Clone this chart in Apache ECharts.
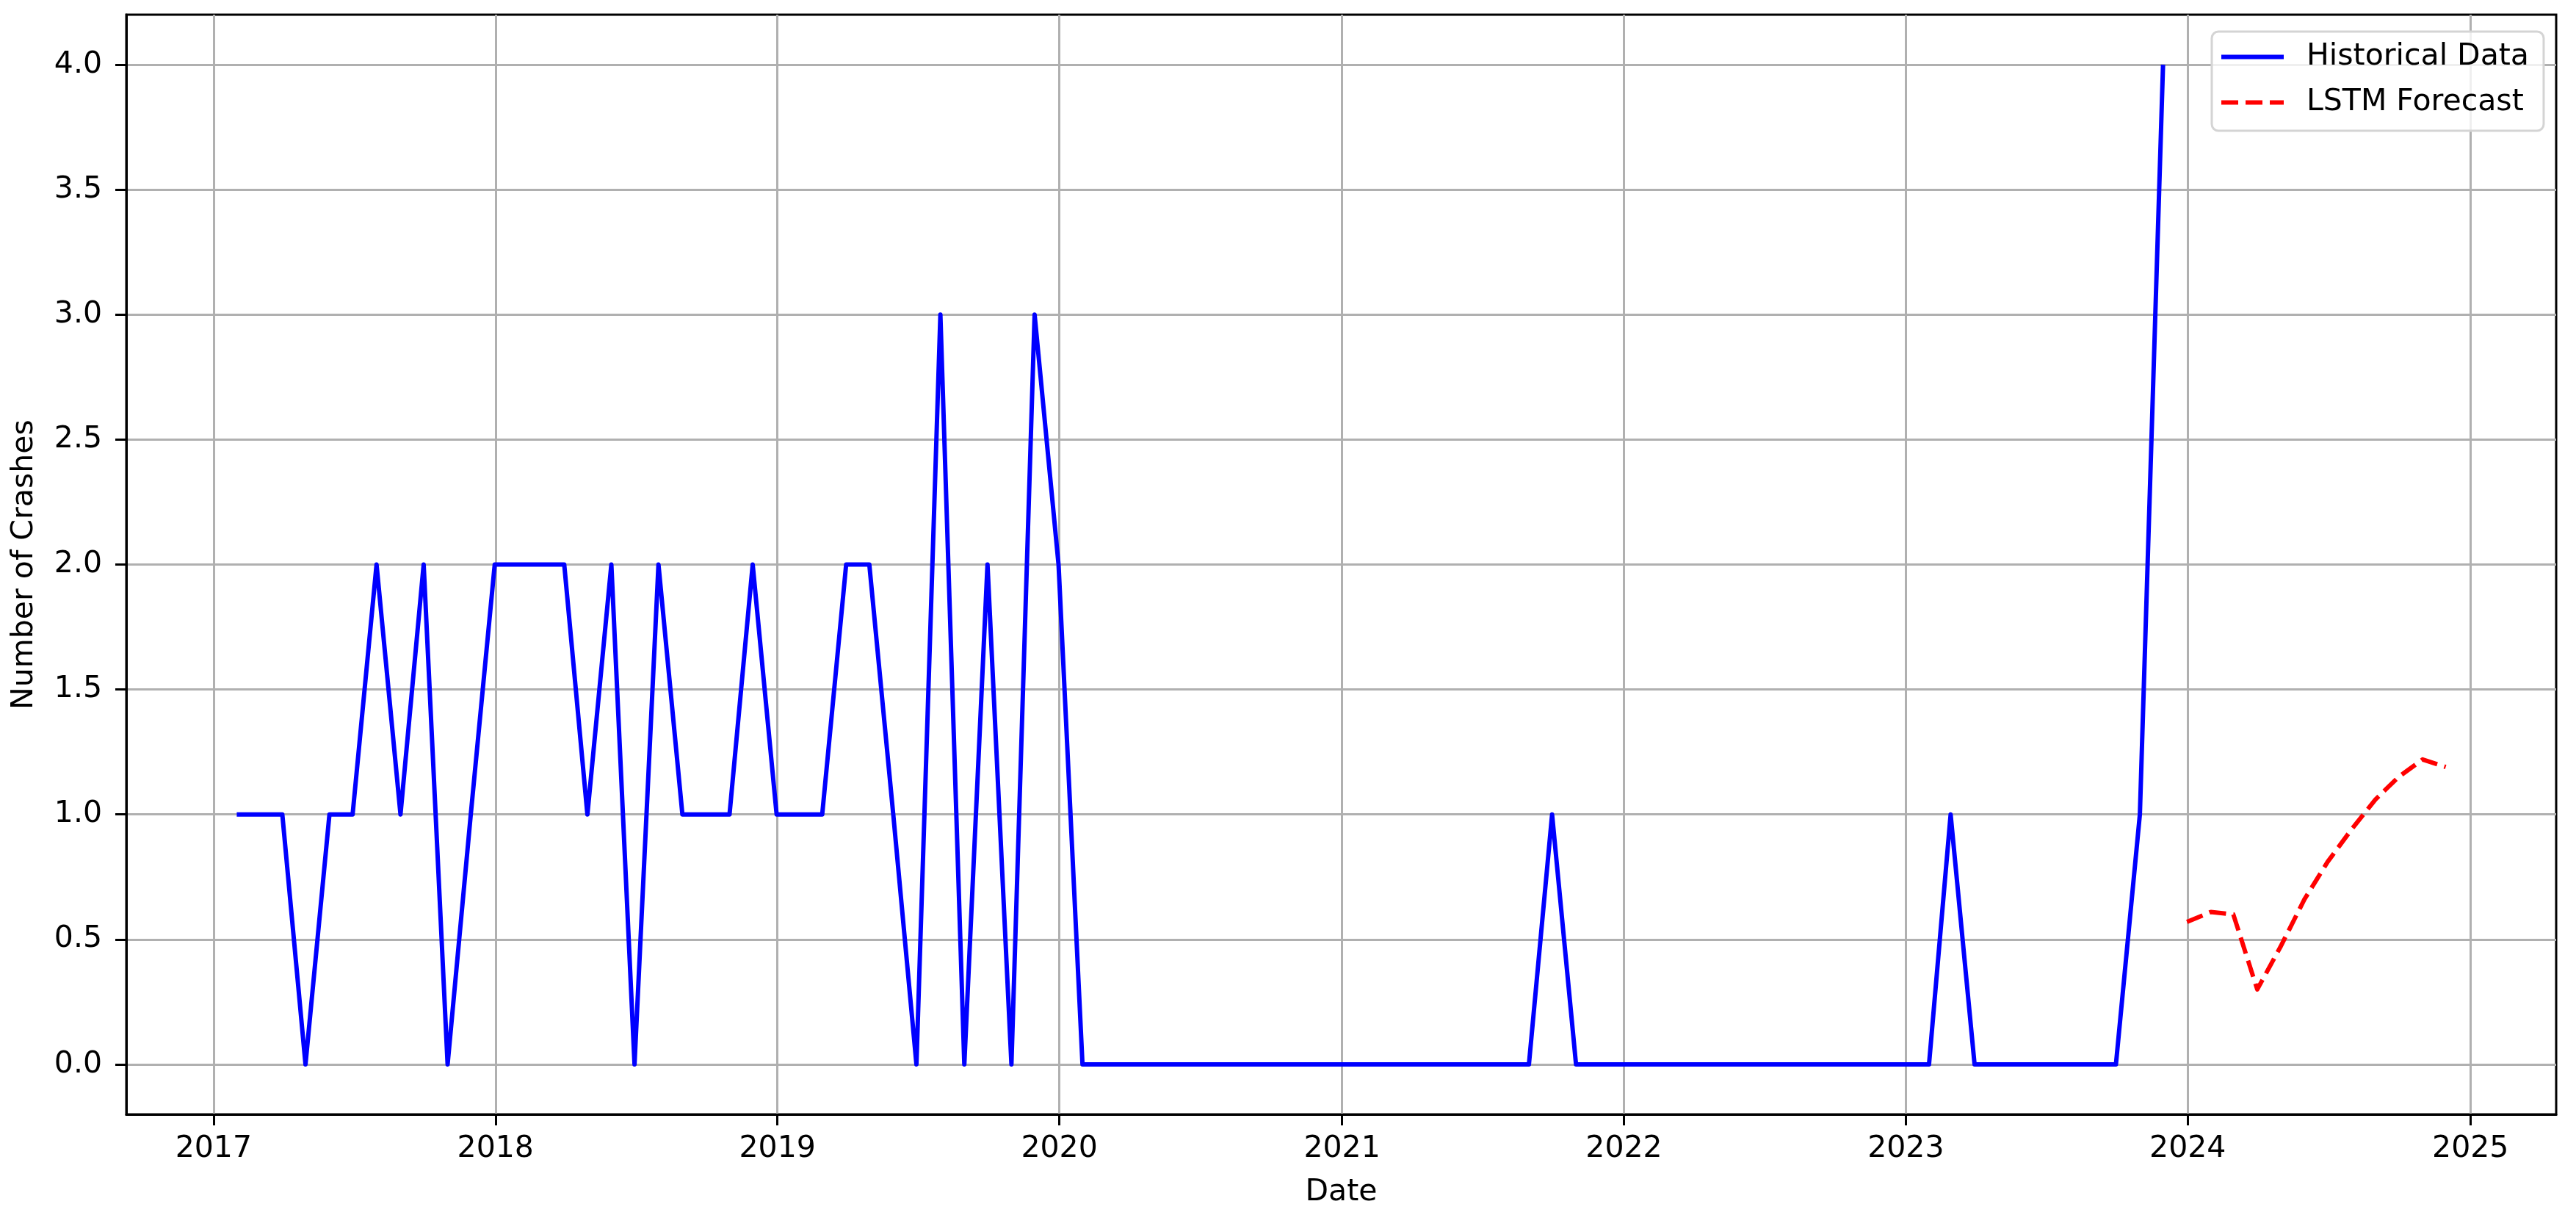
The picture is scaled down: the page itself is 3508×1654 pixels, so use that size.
<!DOCTYPE html>
<html>
<head>
<meta charset="utf-8">
<title>Crash forecast</title>
<script src="https://cdn.jsdelivr.net/npm/echarts@6/dist/echarts.min.js"></script>
<style>
  html, body { margin: 0; padding: 0; background: #fff; }
  #chart { width: 3508px; height: 1654px; }
</style>
</head>
<body>
<div id="chart"></div>
<script>
// monthly crash counts, one value per month-end starting Jan 2017
const histStart = [2017, 1];
const histValues = [
  1, 1, 1, 0, 1, 1, 2, 1, 2, 0, 1, 2, // 2017
  2, 2, 2, 1, 2, 0, 2, 1, 1, 1, 2, 1, // 2018
  1, 1, 2, 2, 1, 0, 3, 0, 2, 0, 3, 2, // 2019
  0, 0, 0, 0, 0, 0, 0, 0, 0, 0, 0, 0, // 2020
  0, 0, 0, 0, 0, 0, 0, 0, 1, 0, 0, 0, // 2021
  0, 0, 0, 0, 0, 0, 0, 0, 0, 0, 0, 0, // 2022
  0, 1, 0, 0, 0, 0, 0, 0, 0, 1, 4     // 2023 (Jan-Nov)
];
// LSTM forecast, month-ends Dec 2023 .. Nov 2024
const forecastStart = [2023, 12];
const forecastValues = [0.57, 0.61, 0.60, 0.30, 0.47, 0.66, 0.81, 0.94, 1.06, 1.15, 1.22, 1.19];

const yearTicks = [2017, 2018, 2019, 2020, 2021, 2022, 2023, 2024, 2025];
const yTicks = [0, 0.5, 1, 1.5, 2, 2.5, 3, 3.5, 4];

const FONT = "DejaVu Sans";

// month-end timestamp for (year, month 1-12) shifted by i months
function monthEnd(start, i) {
  return new Date(start[0], start[1] + i, 0).getTime();
}

const histData = histValues.map((v, i) => [monthEnd(histStart, i), v]);
const forecastData = forecastValues.map((v, i) => [monthEnd(forecastStart, i), v]);

// matplotlib style 5% margins on the x range
const t0 = histData[0][0];
const t1 = forecastData[forecastData.length - 1][0];
const pad = (t1 - t0) * 0.05;

const yearStamps = yearTicks.map(y => new Date(y, 0, 1).getTime());

// legend handles: plain line and a three-dash line
const solidIcon = "path://M0,0h85v6h-85z";
const dashIcon = "path://M0,0h23v6h-23z M33,0h23v6h-23z M66,0h19v6h-19z";

const chart = echarts.init(document.getElementById("chart"));

chart.setOption({
  animation: false,
  backgroundColor: "#fff",
  textStyle: { fontFamily: FONT },
  grid: {
    left: 172, right: 27, top: 20, bottom: 137,
    containLabel: false,
    outerBoundsMode: "none",
    show: true,
    borderColor: "#000",
    borderWidth: 3,
    backgroundColor: "transparent"
  },
  legend: {
    orient: "vertical",
    left: 3012,
    top: 43,
    padding: [14, 20, 18, 13],
    itemWidth: 85,
    itemHeight: 40,
    itemGap: 21,
    backgroundColor: "rgba(255,255,255,0.8)",
    borderColor: "#d4d4d4",
    borderWidth: 3,
    borderRadius: 9,
    textStyle: { fontSize: 41, color: "#000", fontFamily: FONT, padding: [0, 0, 0, 26] },
    data: [
      { name: "Historical Data", icon: solidIcon, itemStyle: { color: "#0000ff" } },
      { name: "LSTM Forecast", icon: dashIcon, itemStyle: { color: "#ff0000" } }
    ]
  },
  xAxis: {
    // timestamps on a value axis so the year ticks can be placed exactly
    type: "value",
    min: t0 - pad,
    max: t1 + pad,
    name: "Date",
    nameLocation: "middle",
    nameGap: 86,
    nameTextStyle: { fontSize: 41, color: "#000", fontFamily: FONT },
    axisLine: { show: true, onZero: false, lineStyle: { color: "#000", width: 3 } },
    axisTick: { show: true, length: 15, customValues: yearStamps, lineStyle: { color: "#000", width: 3 } },
    axisLabel: {
      customValues: yearStamps,
      formatter: v => String(new Date(v).getFullYear()),
      fontSize: 41, color: "#000", fontFamily: FONT, margin: 27
    },
    splitLine: { show: true, lineStyle: { color: "#b0b0b0", width: 3 } }
  },
  yAxis: {
    type: "value",
    min: -0.2,
    max: 4.2,
    name: "Number of Crashes",
    nameLocation: "middle",
    nameRotate: 90,
    nameGap: 118,
    nameTextStyle: { fontSize: 41, color: "#000", fontFamily: FONT },
    axisLine: { show: true, onZero: false, lineStyle: { color: "#000", width: 3 } },
    axisTick: { show: true, length: 15, customValues: yTicks, lineStyle: { color: "#000", width: 3 } },
    axisLabel: {
      customValues: yTicks,
      formatter: v => v.toFixed(1),
      fontSize: 41, color: "#000", fontFamily: FONT, margin: 33
    },
    splitLine: { show: true, lineStyle: { color: "#b0b0b0", width: 3 } }
  },
  series: [
    {
      name: "Historical Data",
      type: "line",
      data: histData,
      symbol: "none",
      color: "#0000ff",
      lineStyle: { color: "#0000ff", width: 6, join: "round" }
    },
    {
      name: "LSTM Forecast",
      type: "line",
      data: forecastData,
      symbol: "none",
      color: "#ff0000",
      lineStyle: { color: "#ff0000", width: 6, type: [23, 10], join: "round" }
    }
  ]
});
</script>
</body>
</html>
